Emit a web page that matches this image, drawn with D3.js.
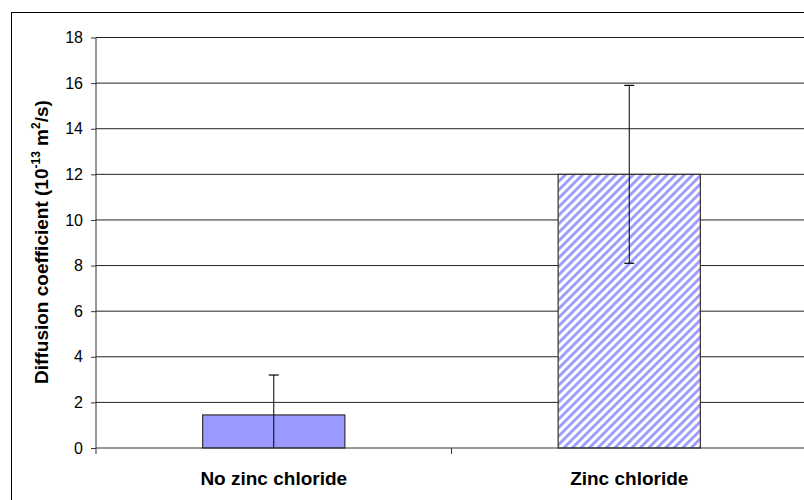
<!DOCTYPE html>
<html>
<head>
<meta charset="utf-8">
<script src="https://cdn.jsdelivr.net/npm/d3@7"></script>
<style>
  body { margin: 0; background: #fff; }
  svg { display: block; font-family: Arial, "Liberation Sans", sans-serif; }
</style>
</head>
<body>
<svg id="chart" width="804" height="500"></svg>
<script>
// values
let categories = ["No zinc chloride", "Zinc chloride"];
let means = [1.45, 12.0];
let errors = [1.75, 3.9];
let yTicks = [0, 2, 4, 6, 8, 10, 12, 14, 16, 18];

let svg = d3.select("#chart");

let plotLeft = 96, plotRight = 807, plotTop = 37.5, plotBottom = 448;

let xScale = d3.scaleBand()
  .domain(categories)
  .range([plotLeft, plotRight])
  .paddingInner(0)
  .paddingOuter(0);

let yScale = d3.scaleLinear()
  .domain([0, 18])
  .range([plotBottom, plotTop]);

// hatch pattern for the second bar
let defs = svg.append("defs");
let pat = defs.append("pattern")
  .attr("id", "hatch")
  .attr("patternUnits", "userSpaceOnUse")
  .attr("width", 6)
  .attr("height", 6)
  .attr("patternTransform", "rotate(45)");
pat.append("rect").attr("width", 6).attr("height", 6).attr("fill", "#fff");
pat.append("rect").attr("width", 2.8).attr("height", 6).attr("fill", "#9999ff");

// outer chart border (runs off the right/bottom of the picture)
svg.append("rect")
  .attr("x", 11.5).attr("y", 12.5)
  .attr("width", 820).attr("height", 520)
  .attr("fill", "none")
  .attr("stroke", "#000")
  .attr("stroke-width", 1);

// gridlines
svg.append("g")
  .selectAll("line")
  .data(yTicks.filter(d => d > 0))
  .join("line")
  .attr("x1", plotLeft).attr("x2", plotRight)
  .attr("y1", d => yScale(d)).attr("y2", d => yScale(d))
  .attr("stroke", "#222")
  .attr("stroke-width", 1);

// bars
svg.append("g")
  .selectAll("rect")
  .data(categories)
  .join("rect")
  .attr("x", d => xScale(d) + xScale.bandwidth() * 0.3)
  .attr("width", xScale.bandwidth() * 0.4)
  .attr("y", (d, i) => yScale(means[i]))
  .attr("height", (d, i) => yScale(0) - yScale(means[i]))
  .attr("fill", (d, i) => i === 0 ? "#9999ff" : "url(#hatch)")
  .attr("stroke", "#333")
  .attr("stroke-width", 1.2);

// error bars
let errG = svg.append("g");
categories.forEach((c, i) => {
  let cx = xScale(c) + xScale.bandwidth() / 2;
  let hi = means[i] + errors[i];
  let lo = Math.max(0, means[i] - errors[i]);
  errG.append("line")
    .attr("x1", cx).attr("x2", cx)
    .attr("y1", yScale(hi)).attr("y2", yScale(lo))
    .attr("stroke", "#000").attr("stroke-width", 1);
  errG.append("line")
    .attr("x1", cx - 5).attr("x2", cx + 5)
    .attr("y1", yScale(hi)).attr("y2", yScale(hi))
    .attr("stroke", "#000").attr("stroke-width", 1.2);
  if (means[i] - errors[i] > 0) {
    errG.append("line")
      .attr("x1", cx - 5).attr("x2", cx + 5)
      .attr("y1", yScale(lo)).attr("y2", yScale(lo))
      .attr("stroke", "#000").attr("stroke-width", 1.2);
  }
});

// y axis
let yAxis = svg.append("g")
  .attr("transform", `translate(${plotLeft},0)`)
  .call(d3.axisLeft(yScale).tickValues(yTicks).tickSize(5).tickPadding(8));
yAxis.attr("font-size", null).attr("font-family", null);
yAxis.select(".domain").attr("stroke", "#333").attr("d", `M0,${plotTop}V${plotBottom + 6}`);
yAxis.selectAll(".tick line").attr("stroke", "#333");
yAxis.selectAll("text").style("font-size", "16px").attr("fill", "#000");

// x axis
let xAxis = svg.append("g")
  .attr("transform", `translate(0,${plotBottom})`)
  .call(d3.axisBottom(xScale).tickSize(0).tickPadding(23.5));
xAxis.attr("font-size", null).attr("font-family", null);
xAxis.select(".domain").attr("stroke", "#333").attr("d", `M${plotLeft},0H${plotRight}`);
xAxis.selectAll("text").style("font-size", "19px").style("font-weight", "bold").attr("fill", "#000");
// category separator ticks
svg.append("g")
  .selectAll("line")
  .data(categories.slice(1))
  .join("line")
  .attr("x1", d => xScale(d)).attr("x2", d => xScale(d))
  .attr("y1", plotBottom).attr("y2", plotBottom + 6)
  .attr("stroke", "#333");

// y title
let title = svg.append("text")
  .attr("transform", `translate(48,242) rotate(-90)`)
  .attr("text-anchor", "middle")
  .style("font-size", "19px")
  .style("font-weight", "bold")
  .attr("fill", "#000");
title.append("tspan").text("Diffusion coefficient (10");
title.append("tspan").style("font-size", "12px").attr("dy", -8).text("-13");
title.append("tspan").attr("dy", 8).text(" m");
title.append("tspan").style("font-size", "12px").attr("dy", -8).text("2");
title.append("tspan").attr("dy", 8).text("/s)");
</script>
</body>
</html>
